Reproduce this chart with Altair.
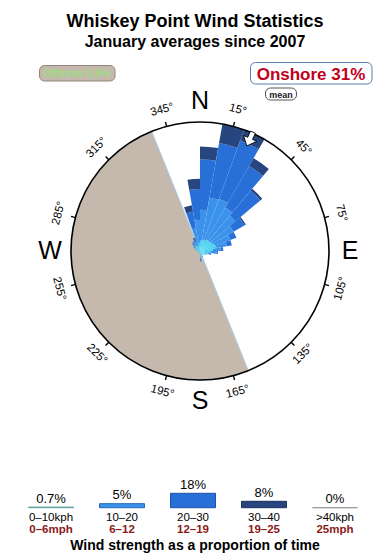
import altair as alt
import pandas as pd

# ---------------- data ----------------
# wind rose: 10-degree sectors, radial contribution of each speed band (0-10 radial units)
sector_start = list(range(0, 360, 10))
band_0_10 = [0.8, 0.9, 0.9, 1.0, 1.0, 1.1, 1.2, 1.3, 1.0, 0.8, 0.6, 0.5, 0.5, 0.4, 0.3, 0.4, 0.3, 0.5,
             0.3, 0.2, 0.15, 0.15, 0.1, 0.1, 0.15, 0.2, 0.2, 0.3, 0.3, 0.35, 0.4, 0.5, 0.5, 0.4, 0.4, 0.6]
band_10_20 = [2.4, 3.3, 3.4, 2.9, 2.6, 1.9, 1.3, 0.8, 0.6, 0.5, 0.3, 0.1, 0, 0, 0, 0.1, 0, 0.2,
              0, 0, 0, 0, 0, 0, 0, 0, 0, 0, 0, 0.1, 0.2, 0.2, 0.3, 0.4, 1.4, 1.8]
band_20_30 = [3.9, 4.3, 4.8, 3.7, 2.5, 1.0, 0.5, 0.4, 0.2, 0.1, 0, 0, 0, 0, 0, 0, 0, 0.1,
              0, 0, 0, 0, 0, 0, 0, 0, 0, 0, 0, 0, 0, 0.1, 0.1, 0.2, 1.3, 2.4]
band_30_40 = [1.0, 1.5, 0.9, 0.7, 0.2, 0.1, 0, 0, 0, 0, 0, 0, 0, 0, 0, 0, 0, 0,
              0, 0, 0, 0, 0, 0, 0, 0, 0, 0, 0, 0, 0, 0, 0, 0.1, 0.5, 0.8]
band_names = ["0-10", "10-20", "20-30", "30-40"]
band_colors = ["#48d2ee", "#3b92ea", "#2870d8", "#27457f"]

# offshore half of the compass (degrees)
offshore_from, offshore_to = 158, 338
mean_direction = [24]
mean_radius = [9.5]

# compass annotations
degree_ticks = [15, 45, 75, 105, 135, 165, 195, 225, 255, 285, 315, 345]
compass_points = ["N", "E", "S", "W"]
compass_angles = [0, 90, 180, 270]

# speed legend
legend_kph = ["0\u201310kph", "10\u201320", "20\u201330", "30\u201340", ">40kph"]
legend_mph = ["0\u20136mph", "6\u201312", "12\u201319", "19\u201325", "25mph"]
legend_share = [0.7, 5, 18, 8, 0]
legend_share_text = ["0.7%", "5%", "18%", "8%", "0%"]
legend_fill = ["#5e9f9b", "#3b92ea", "#2870d8", "#27457f", "#9a9a9a"]
legend_stroke = ["#5e9f9b", "#1f64b8", "#1c52a4", "#1a2f5a", "#9a9a9a"]

# ---------------- layout ----------------
W, H = 390, 560
CX, CY, R_PX = 200, 251, 129
R_MAX = 10
FONT = "Liberation Sans"

theta_scale = alt.Scale(domain=[0, 360], range=[0, 6.283185307179586])
radius_scale = alt.Scale(type="linear", domain=[0, R_MAX], range=[0, R_PX], zero=True)

rows = []
for i, start in enumerate(sector_start):
    r = 0.0
    for name, vals in zip(band_names, [band_0_10, band_10_20, band_20_30, band_30_40]):
        v = vals[i]
        if v > 0:
            rows.append(dict(start=start, end=start + 10, r0=r, r1=r + v, band=name))
        r += v
rose_df = pd.DataFrame(rows)

center = dict(x=alt.value(CX), y=alt.value(CY))

offshore = alt.Chart(pd.DataFrame({"a": [offshore_from], "b": [offshore_to], "r": [R_MAX]})).mark_arc(
    fill="#c5b9ad", stroke="#a9cde8", strokeWidth=1
).encode(
    theta=alt.Theta("a:Q", scale=theta_scale, stack=None),
    theta2="b:Q",
    radius=alt.Radius("r:Q", scale=radius_scale, stack=None),
    **center,
)

rose = alt.Chart(rose_df).mark_arc(strokeWidth=0).encode(
    theta=alt.Theta("start:Q", scale=theta_scale, stack=None),
    theta2="end:Q",
    radius=alt.Radius("r1:Q", scale=radius_scale, stack=None),
    radius2="r0:Q",
    color=alt.Color("band:N", scale=alt.Scale(domain=band_names, range=band_colors), legend=None),
    **center,
)

ring = alt.Chart(pd.DataFrame({"a": [0], "b": [360], "r": [R_MAX]})).mark_arc(
    fill=None, filled=False, stroke="black", strokeWidth=1.6
).encode(
    theta=alt.Theta("a:Q", scale=theta_scale, stack=None),
    theta2="b:Q",
    radius=alt.Radius("r:Q", scale=radius_scale, stack=None),
    **center,
)

tick_df = pd.DataFrame({"deg": degree_ticks})
tick_df["a"] = tick_df["deg"] - 0.3
tick_df["b"] = tick_df["deg"] + 0.3
tick_df["r0"] = R_MAX
tick_df["r1"] = R_MAX * 1.035
ticks = alt.Chart(tick_df).mark_arc(fill="black").encode(
    theta=alt.Theta("a:Q", scale=theta_scale, stack=None),
    theta2="b:Q",
    radius=alt.Radius("r1:Q", scale=radius_scale, stack=None),
    radius2="r0:Q",
    **center,
)

label_df = pd.DataFrame({"deg": degree_ticks})
label_df["text"] = label_df["deg"].astype(str) + "\u00b0"
label_df["rot"] = label_df["deg"].apply(lambda d: d if (d < 90 or d > 270) else (d + 180) % 360)
degree_labels = alt.Chart(label_df).mark_text(
    radius=146, font=FONT, fontSize=11.5, baseline="middle", align="center", color="black"
).encode(
    theta=alt.Theta("deg:Q", scale=theta_scale, stack=None),
    text="text:N",
    angle=alt.Angle("rot:Q", scale=None),
    **center,
)

compass = alt.Chart(pd.DataFrame({"t": compass_points, "deg": compass_angles})).mark_text(
    radius=150, font=FONT, fontSize=25, baseline="middle", align="center", color="black"
).encode(
    theta=alt.Theta("deg:Q", scale=theta_scale, stack=None),
    text="t:N",
    **center,
)

arrow_path = "M-0.35,-1 L0.35,-1 L0.35,-0.1 L0.95,-0.1 L0,1 L-0.95,-0.1 L-0.35,-0.1 Z"
mean_arrow = alt.Chart(pd.DataFrame({"dir": mean_direction, "r": mean_radius})).transform_calculate(
    px=f"{CX} + datum.r * {R_PX / R_MAX} * sin(datum.dir * PI / 180)",
    py=f"{CY} - datum.r * {R_PX / R_MAX} * cos(datum.dir * PI / 180)",
).mark_point(
    shape=arrow_path, size=230, filled=True, fill="white", stroke="black", strokeWidth=0.8, opacity=1
).encode(
    x=alt.X("px:Q", scale=None),
    y=alt.Y("py:Q", scale=None),
    angle=alt.Angle("dir:Q", scale=None),
)


def label(text, x, y, size, weight="normal", color="black", align="center", baseline="alphabetic"):
    return alt.Chart(pd.DataFrame({"t": [text]})).mark_text(
        font=FONT, fontSize=size, fontWeight=weight, color=color, align=align, baseline=baseline
    ).encode(text="t:N", x=alt.value(x), y=alt.value(y))


def box(x0, x1, y0, y1, fill, stroke, radius):
    return alt.Chart(pd.DataFrame({"k": [0]})).mark_rect(
        fill=fill, stroke=stroke, strokeWidth=1, cornerRadius=radius
    ).encode(x=alt.value(x0), x2=alt.value(x1), y=alt.value(y0), y2=alt.value(y1))


title = label("Whiskey Point Wind Statistics", 195, 27, 18, "bold")
subtitle = label("January averages since 2007", 195, 47, 16, "bold")

offshore_box = box(39.5, 115, 65.5, 81, "#c4b9ac", "#8f857b", 5)
offshore_txt = label("Offshore 0.9%", 77, 77, 10.5, "normal", "#8fe870")
onshore_box = box(250.5, 372, 62.5, 84, "white", "#5a7fae", 5)
onshore_txt = label("Onshore 31%", 311, 80, 17, "bold", "#c0001e")
mean_box = box(265.5, 296.5, 88, 100, "white", "#555555", 5)
mean_txt = label("mean", 281, 97.5, 9, "bold", "#222222")

# ---------------- speed legend ----------------
leg_df = pd.DataFrame({
    "kph": legend_kph, "mph": legend_mph, "share": legend_share, "share_text": legend_share_text,
})
leg_x = alt.X("kph:N", scale=alt.Scale(type="point", domain=legend_kph, range=[51, 335], padding=0), axis=None)
leg_y_scale = alt.Scale(domain=[0, 18], range=[507.7, 493.3], zero=True)

leg_bars = alt.Chart(leg_df).mark_bar(size=45, strokeWidth=1).encode(
    x=leg_x,
    y=alt.Y("share:Q", scale=leg_y_scale, axis=None),
    y2=alt.datum(0),
    fill=alt.Fill("kph:N", scale=alt.Scale(domain=legend_kph, range=legend_fill), legend=None),
    stroke=alt.Stroke("kph:N", scale=alt.Scale(domain=legend_kph, range=legend_stroke), legend=None),
)
leg_pct = alt.Chart(leg_df).mark_text(
    font=FONT, fontSize=13, baseline="alphabetic", dy=-4.5, color="black"
).encode(x=leg_x, y=alt.Y("share:Q", scale=leg_y_scale, axis=None), text="share_text:N")
leg_kph = alt.Chart(leg_df).mark_text(
    font=FONT, fontSize=11.5, baseline="alphabetic", color="black"
).encode(x=leg_x, y=alt.value(520.5), text="kph:N")
leg_mph = alt.Chart(leg_df).mark_text(
    font=FONT, fontSize=11.5, fontWeight="bold", baseline="alphabetic", color="#8b1a1a"
).encode(x=leg_x, y=alt.value(532.5), text="mph:N")
footer = label("Wind strength as a proportion of time", 195, 550, 14, "bold")

chart = alt.layer(
    offshore, rose, ring, ticks, degree_labels, compass, mean_arrow,
    title, subtitle, offshore_box, offshore_txt, onshore_box, onshore_txt, mean_box, mean_txt,
    leg_bars, leg_pct, leg_kph, leg_mph, footer,
).properties(
    width=W, height=H, padding=0, autosize=alt.AutoSizeParams(type="none"), background="white"
).configure_view(stroke=None)

chart.save("out.html", embed_options={"renderer": "svg", "actions": False})
